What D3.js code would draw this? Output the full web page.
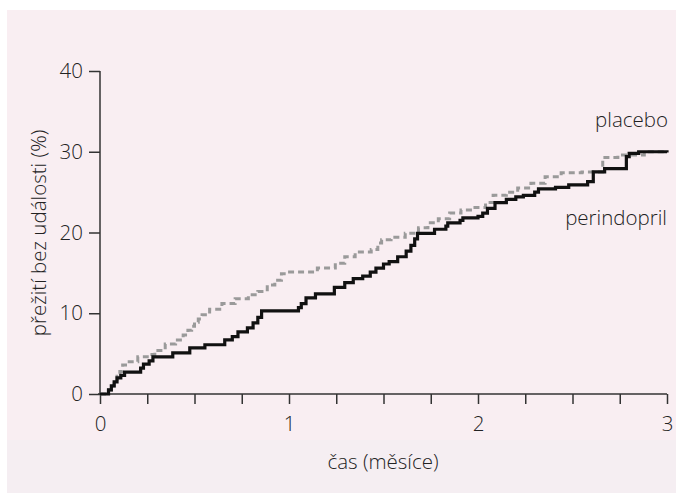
<!DOCTYPE html>
<html><head><meta charset="utf-8">
<script src="https://cdn.jsdelivr.net/npm/d3@7/dist/d3.min.js"></script>
<style>
html,body{margin:0;padding:0;background:#fff;}
svg{display:block;}
text{font-family:"Open Sans",sans-serif;font-weight:300;fill:#222;}
</style></head>
<body>
<svg id="chart" width="676" height="493"></svg>
<script>
// Data (time in months, event-free survival %)
const perindoprilTime = [0,0.045,0.06,0.075,0.09,0.11,0.13,0.215,0.23,0.26,0.28,0.385,0.475,0.555,0.66,0.70,0.73,0.78,0.81,0.835,0.855,1.05,1.065,1.09,1.14,1.24,1.295,1.34,1.39,1.43,1.46,1.5,1.53,1.575,1.62,1.645,1.665,1.68,1.77,1.83,1.84,1.905,1.92,2.0,2.025,2.05,2.09,2.15,2.2,2.24,2.30,2.32,2.41,2.48,2.58,2.61,2.67,2.785,2.80,2.85,3.0];
const perindoprilValue = [0,0.5,1.0,1.5,2.0,2.3,2.7,3.2,3.7,4.1,4.6,5.1,5.7,6.1,6.7,7.1,7.7,8.2,8.8,9.5,10.3,10.7,11.2,11.9,12.4,13.2,13.8,14.3,14.6,15.1,15.6,16.1,16.4,17.0,17.7,18.4,19.2,19.9,20.4,20.8,21.2,21.5,21.8,22.0,22.4,23.0,23.7,24.1,24.4,24.6,25.0,25.4,25.6,25.9,26.3,27.5,27.9,29.4,29.8,30.0,29.9];
const placeboTime = [0,0.045,0.06,0.075,0.09,0.105,0.12,0.135,0.2,0.25,0.29,0.345,0.4,0.44,0.465,0.485,0.5,0.52,0.54,0.58,0.645,0.715,0.785,0.835,0.885,0.925,0.96,0.99,1.15,1.245,1.295,1.35,1.435,1.47,1.49,1.54,1.615,1.685,1.735,1.79,1.85,1.91,1.96,2.04,2.08,2.15,2.21,2.28,2.355,2.44,2.55,2.66,2.74,2.88,3.0];
const placeboValue = [0,0.5,1.0,1.6,2.2,2.8,3.6,4.0,4.6,4.9,5.4,6.2,6.7,7.3,7.9,8.4,8.9,9.3,9.8,10.5,11.2,11.8,12.3,12.7,13.5,14.1,14.9,15.1,15.6,16.2,17.0,17.6,17.9,18.7,19.1,19.4,19.9,20.6,21.2,21.7,22.4,22.8,23.1,23.7,24.6,25.0,25.5,26.1,26.9,27.4,27.5,29.3,29.6,30.0,30.0];
const xTicks = [0,0.25,0.5,0.75,1,1.25,1.5,1.75,2,2.25,2.5,2.75,3];
const xTickLabels = [0,1,2,3];
const yTicks = [0,10,20,30,40];
const seriesNames = ["placebo","perindopril"];
const xTitle = "čas (měsíce)";
const yTitle = "přežití bez události (%)";

const svg = d3.select("#chart");
// background panels
svg.append("rect").attr("x",7).attr("y",10).attr("width",669).attr("height",483).attr("fill","#f9eef2");
svg.append("rect").attr("x",7).attr("y",440).attr("width",669).attr("height",53).attr("fill","#f5eef2");

const x = d3.scaleLinear().domain([0,3]).range([100,667]);
const y = d3.scaleLinear().domain([0,40]).range([394,71]);

const fs = "20.5px";
// X axis
const xAxis = d3.axisBottom(x).tickValues(xTicks).tickSize(10).tickPadding(12)
  .tickFormat(d => xTickLabels.includes(d) ? d3.format("d")(d) : "");
const gx = svg.append("g").attr("transform","translate(0,394)").call(xAxis);
gx.select(".domain").attr("d","M98,0H667").attr("stroke","#333").attr("stroke-width",1.5);
gx.selectAll(".tick line").attr("stroke","#333").attr("stroke-width",1.5);
gx.selectAll(".tick text").style("font-size",fs).style("font-family","'Open Sans',sans-serif").style("font-weight",300).attr("fill","#222");

// Y axis
const yAxis = d3.axisLeft(y).tickValues(yTicks).tickSize(11).tickPadding(6).tickFormat(d3.format("d"));
const gy = svg.append("g").attr("transform","translate(100,0)").call(yAxis);
gy.select(".domain").attr("d","M0,71V395").attr("stroke","#333").attr("stroke-width",1.5);
gy.selectAll(".tick line").attr("stroke","#333").attr("stroke-width",1.5);
gy.selectAll(".tick text").style("font-size",fs).style("font-family","'Open Sans',sans-serif").style("font-weight",300).attr("fill","#222");

// Titles
svg.append("text").attr("x",383).attr("y",469).attr("text-anchor","middle").style("font-size",fs).text(xTitle);
svg.append("text").attr("transform","translate(46,233) rotate(-90)").attr("text-anchor","middle").style("font-size",fs).text(yTitle);

// Lines
const line = d3.line().x(d=>x(d[0])).y(d=>y(d[1])).curve(d3.curveStepAfter);
const plaData = placeboTime.map((t,i)=>[t,placeboValue[i]]);
const perData = perindoprilTime.map((t,i)=>[t,perindoprilValue[i]]);
svg.append("path").datum(plaData).attr("d",line).attr("fill","none")
  .attr("stroke","#9a9a9a").attr("stroke-width",3).attr("stroke-dasharray","6,4");
svg.append("path").datum(perData).attr("d",line).attr("fill","none")
  .attr("stroke","#111").attr("stroke-width",3.2);

// Series labels
svg.append("text").attr("x",668).attr("y",127).attr("text-anchor","end").style("font-size",fs).text(seriesNames[0]);
svg.append("text").attr("x",667).attr("y",225).attr("text-anchor","end").style("font-size",fs).text(seriesNames[1]);
</script>
</body></html>
